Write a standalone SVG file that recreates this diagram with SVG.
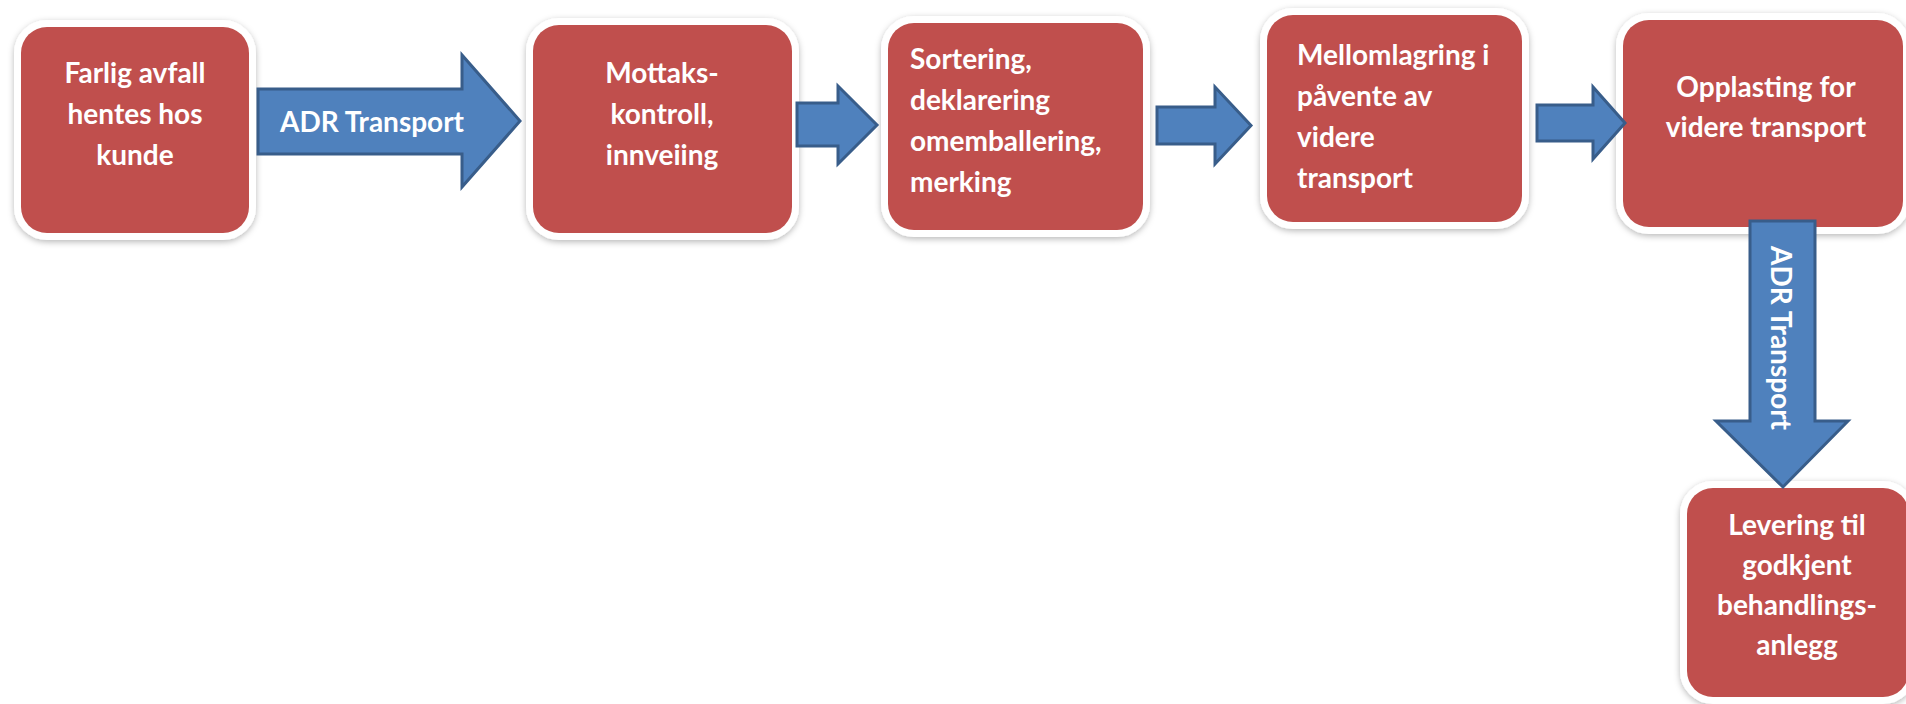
<svg xmlns="http://www.w3.org/2000/svg" width="1906" height="704" viewBox="0 0 1906 704">
  <defs>
    <filter id="soft" x="-10%" y="-10%" width="120%" height="125%">
      <feDropShadow dx="0" dy="2" stdDeviation="3" flood-color="#000" flood-opacity="0.28"/>
    </filter>
  </defs>
  <style>
    .box { fill: #C0504D; stroke: #FFFFFF; stroke-width: 14; paint-order: stroke; filter: url(#soft); }
    .lbl { font-family: Lato, "Open Sans", sans-serif; font-weight: bold; font-size: 28px; fill: #FFFFFF; }
    .mid { text-anchor: middle; }
    .arrow { fill: #4F81BD; stroke: #385D8A; stroke-width: 3; stroke-linejoin: miter; }
  </style>
  <rect width="1906" height="704" fill="#FFFFFF"/>

  <g id="node-henting">
    <rect class="box" x="21" y="27" width="228" height="206" rx="26"/>
    <text class="lbl mid" x="135" y="83">Farlig avfall</text>
    <text class="lbl mid" x="135" y="124">hentes hos</text>
    <text class="lbl mid" x="135" y="165">kunde</text>
  </g>

  <g id="node-mottak">
    <rect class="box" x="533" y="25" width="259" height="208" rx="26"/>
    <text class="lbl mid" x="662" y="83">Mottaks-</text>
    <text class="lbl mid" x="662" y="124">kontroll,</text>
    <text class="lbl mid" x="662" y="165">innveiing</text>
  </g>

  <g id="node-sortering">
    <rect class="box" x="888" y="23" width="255" height="207" rx="26"/>
    <text class="lbl" x="910" y="69">Sortering,</text>
    <text class="lbl" x="910" y="110">deklarering</text>
    <text class="lbl" x="910" y="151">omemballering,</text>
    <text class="lbl" x="910" y="192">merking</text>
  </g>

  <g id="node-mellomlagring">
    <rect class="box" x="1267" y="15" width="255" height="207" rx="26"/>
    <text class="lbl" x="1297" y="65">Mellomlagring i</text>
    <text class="lbl" x="1297" y="106">påvente av</text>
    <text class="lbl" x="1297" y="147">videre</text>
    <text class="lbl" x="1297" y="188">transport</text>
  </g>

  <g id="node-opplasting">
    <rect class="box" x="1623" y="20" width="280" height="207" rx="26"/>
    <text class="lbl mid" x="1766" y="97">Opplasting for</text>
    <text class="lbl mid" x="1766" y="137">videre transport</text>
  </g>

  <g id="node-levering">
    <rect class="box" x="1687" y="488" width="222" height="209" rx="26"/>
    <text class="lbl mid" x="1797" y="535">Levering til</text>
    <text class="lbl mid" x="1797" y="575">godkjent</text>
    <text class="lbl mid" x="1797" y="615">behandlings-</text>
    <text class="lbl mid" x="1797" y="655">anlegg</text>
  </g>

  <g id="connectors">
    <polygon class="arrow" points="258,89 462,89 462,55 520,121 462,187 462,154 258,154"/>
    <text class="lbl mid" x="372" y="132">ADR Transport</text>

    <polygon class="arrow" points="797,103 838,103 838,86 877,125 838,164 838,146 797,146"/>

    <polygon class="arrow" points="1157,107 1215,107 1215,87 1251,125.5 1215,164 1215,144 1157,144"/>

    <polygon class="arrow" points="1537,105 1593,105 1593,87 1625,123 1593,159 1593,141 1537,141"/>

    <polygon class="arrow" points="1750,221 1815,221 1815,421 1848,421 1783,487 1716,421 1750,421"/>
    <text class="lbl mid" transform="translate(1771,338) rotate(90)" x="0" y="0">ADR Transport</text>
  </g>
</svg>
